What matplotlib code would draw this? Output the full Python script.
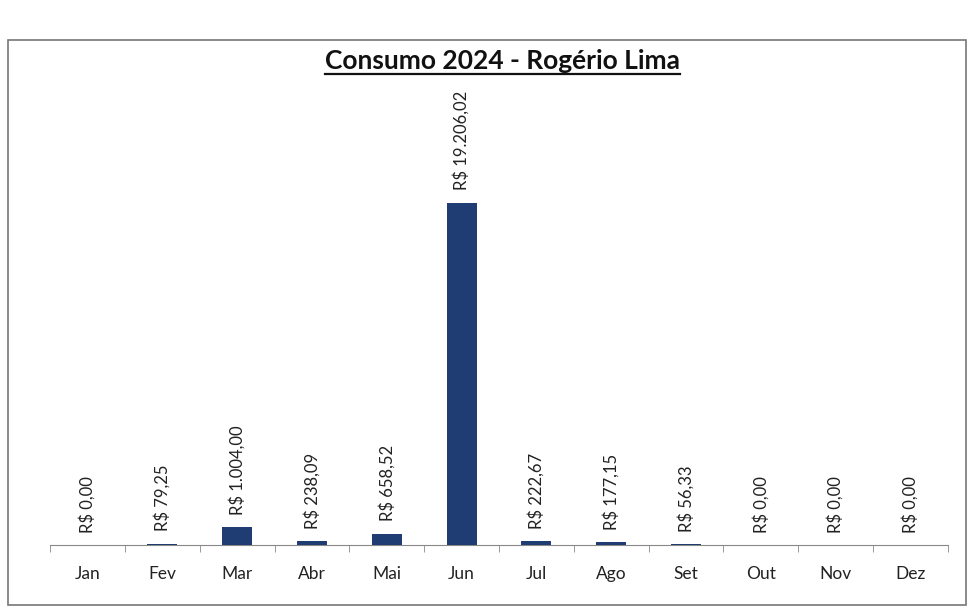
import numpy as np
import matplotlib.pyplot as plt
from matplotlib.patches import Rectangle
from matplotlib.lines import Line2D

meses = ['Jan', 'Fev', 'Mar', 'Abr', 'Mai', 'Jun',
         'Jul', 'Ago', 'Set', 'Out', 'Nov', 'Dez']
consumo = [0.00, 79.25, 1004.00, 238.09, 658.52, 19206.02,
           222.67, 177.15, 56.33, 0.00, 0.00, 0.00]


def brl(v):
    # formato brasileiro: R$ 1.234,56
    s = f'{v:,.2f}'.replace(',', 'X').replace('.', ',').replace('X', '.')
    return f'R$ {s}'


plt.rcParams['font.family'] = ['Lato', 'DejaVu Sans']

fig = plt.figure(figsize=(9.67, 6.12), dpi=100)
ax = fig.add_axes([0.052, 0.109, 0.928, 0.752])

x = np.arange(len(meses))
bars = ax.bar(x, consumo, width=0.4, color='#1F3C73', zorder=3)

for b, v in zip(bars, consumo):
    ax.annotate(brl(v), (b.get_x() + b.get_width() / 2, b.get_height()),
                xytext=(0, 9), textcoords='offset points', rotation=90,
                ha='center', va='bottom', fontsize=12, color='#222222')

ax.set_xlim(-0.5, len(meses) - 0.5)
ax.set_ylim(0, 25800)
ax.set_xticks(x)
ax.set_xticklabels(meses, fontsize=12.5, color='#222222')
ax.set_xticks(np.arange(-0.5, len(meses)), minor=True)
ax.tick_params(axis='x', which='major', length=0, pad=15)
ax.tick_params(axis='x', which='minor', length=5, color='#888888')
ax.set_yticks([])
for s in ['left', 'top', 'right']:
    ax.spines[s].set_visible(False)
ax.spines['bottom'].set_color('#888888')

# moldura do gráfico
fig.patches.append(Rectangle((8 / 967, 7 / 612), 958 / 967, 565 / 612,
                             transform=fig.transFigure, fill=False,
                             edgecolor='#777777', linewidth=1.2))

# título sublinhado
t = fig.text(0.52, 0.888, 'Consumo 2024 - Rogério Lima', ha='center',
             va='baseline', fontsize=19, fontweight='bold', color='#111111')
fig.canvas.draw()
bb = t.get_window_extent().transformed(fig.transFigure.inverted())
fig.lines.append(Line2D([bb.x0, bb.x1], [bb.y0 - 0.003, bb.y0 - 0.003],
                        transform=fig.transFigure, color='#111111',
                        linewidth=1.6))

plt.savefig('out.png', dpi=100)
